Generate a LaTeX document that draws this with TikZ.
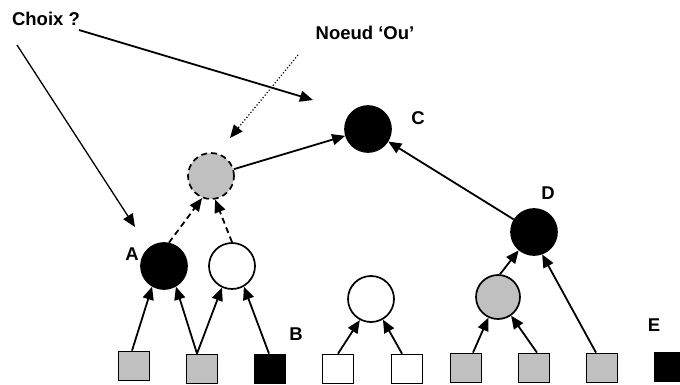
\documentclass[tikz,border=0pt]{standalone}
\usepackage{fontspec}
\setmainfont{Liberation Sans}
\usetikzlibrary{arrows.meta}
\definecolor{gris}{HTML}{C0C0C0}

\begin{document}
\begin{tikzpicture}[x=1pt, y=-1pt]
			\tikzset{noeud/.style={circle, draw=black, line width=1.7pt, minimum size=46pt, inner sep=0pt},
				feuille/.style={rectangle, draw=black, line width=1.7pt, minimum width=31pt, minimum height=29pt, inner sep=0pt},
				fleche/.style={-{Triangle[length=13pt, width=11pt]}, line width=1.8pt},
				tirets/.style={dash pattern=on 6pt off 4pt},
				etiq/.style={font=\fontsize{18.5}{22}\selectfont\bfseries, inner sep=0pt}};

			\useasboundingbox (0,0) rectangle (680,385);

			\node[noeud, fill=gris, tirets] (ou) at (211,176) {};
			\node[noeud, fill=black] (C)  at (368,129) {};
			\node[noeud, fill=black] (A)  at (164,266) {};
			\node[noeud, fill=white] (w1) at (232,266) {};
			\node[noeud, fill=black] (D)  at (534,232) {};
			\node[noeud, fill=white] (w2) at (371,299) {};
			\node[noeud, fill=gris, minimum size=44pt] (g1) at (498,297) {};

			\node[feuille, fill=gris ] (f1) at (134,366) {};
			\node[feuille, fill=gris ] (f2) at (202,369) {};
			\node[feuille, fill=black] (f3) at (270,369) {};
			\node[feuille, fill=white] (f4) at (338,369) {};
			\node[feuille, fill=white] (f5) at (407,369) {};
			\node[feuille, fill=gris ] (f6) at (466,368) {};
			\node[feuille, fill=gris ] (f7) at (534,368) {};
			\node[feuille, fill=gris ] (f8) at (602,368) {};
			\node[feuille, fill=black] (f9) at (670,367) {};

			\node[etiq] (choix) at ( 46, 19) {Choix ?};
			\node[etiq] (nou)   at (365, 33) {Noeud ‘Ou’};
			\node[etiq] (lA)    at (132,254) {A};
			\node[etiq] (lB)    at (296,334) {B};
			\node[etiq] (lC)    at (418,118) {C};
			\node[etiq] (lD)    at (548,193) {D};
			\node[etiq] (lE)    at (654,325) {E};

			\coordinate (c1) at ( 79, 30);
			\coordinate (p1) at (313,100);
			\coordinate (c2) at ( 17, 45);
			\coordinate (p2) at (135,227);
			\coordinate (n1) at (298, 55);
			\coordinate (p3) at (230,138);

			% fleches vers les noeuds
			\draw[fleche] ([xshift=-2pt]f1.north) to (A.240);
			\draw[fleche] ([xshift=-5pt]f2.north) to (A.300);
			\draw[fleche] ([xshift=-5pt]f2.north) to (w1.245);
			\draw[fleche] ([xshift=-1pt]f3.north) to (w1.300);
			\draw[fleche, tirets] (A.78)  to (ou.248);
			\draw[fleche, tirets] (w1.90) to (ou.280);
			\draw[fleche] (ou) to (C);
			\draw[fleche] (D)  to (C);

			\draw[fleche] (f4.north) to (w2.242);
			\draw[fleche] ([xshift=-5pt]f5.north) to (w2.300);
			\draw[fleche] ([xshift=7pt]f6.north)  to (g1.245);
			\draw[fleche] ([xshift=3pt]f7.north)  to (g1.305);
			\draw[fleche] (g1.85) to (D.230);
			\draw[fleche] ([xshift=-6pt]f8.north) to (D.290);

			% commentaires
			\draw[fleche] (c1) to (p1);
			\draw[fleche, line width=1.3pt] (c2) to (p2);
			\draw[fleche, line width=1.2pt, dotted] (n1) to (p3);

		\end{tikzpicture}
\end{document}
